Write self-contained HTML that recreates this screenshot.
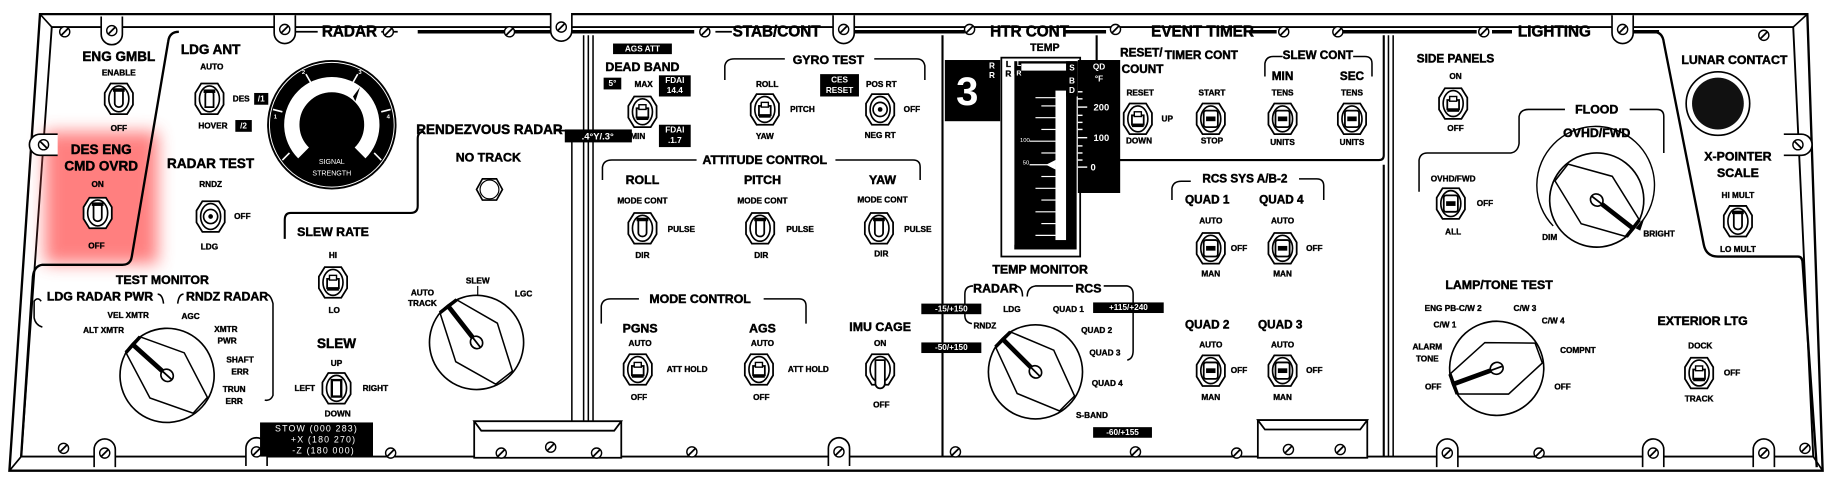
<!DOCTYPE html>
<html><head><meta charset="utf-8"><style>
html,body{margin:0;padding:0;background:#fff;}
svg{display:block;}
text{font-family:"Liberation Sans",sans-serif;font-weight:bold;fill:#000;text-anchor:middle;dominant-baseline:central;stroke:#000;stroke-width:0.3;}
.t{font-size:11.5px;stroke-width:0.4;}
.s{font-size:7px;}
.m{font-size:9px;}
.w{fill:#fff;stroke:none;}
.ln{fill:none;stroke:#000;stroke-width:1.6;}
</style></head><body>
<svg width="1845" height="484" viewBox="0 0 1568 411.3" preserveAspectRatio="none" xmlns="http://www.w3.org/2000/svg">
<defs>
<filter id="bl" x="-50%" y="-50%" width="200%" height="200%"><feGaussianBlur stdDeviation="7"/></filter>
<g id="sc"><circle r="4.3" fill="#fff" stroke="#000" stroke-width="1.2"/><line x1="-2.8" y1="2.8" x2="2.8" y2="-2.8" stroke="#000" stroke-width="1.5"/></g>
<g id="tab"><path d="M-9,-12 V3 A9,9 0 0 0 9,3 V-12" fill="#fff" stroke="#000" stroke-width="1.4"/><use href="#sc"/></g>
<g id="tabb"><path d="M-9,12 V-3 A9,9 0 0 1 9,-3 V12" fill="#fff" stroke="#000" stroke-width="1.4"/><use href="#sc"/></g>
<g id="hex"><polygon points="-12,-5 -7,-13 7,-13 12,-5 12,5 7,13 -7,13 -12,5" fill="#fff" stroke="#000" stroke-width="1.5"/><ellipse rx="8.5" ry="11" fill="none" stroke="#000" stroke-width="1.4"/></g>
<g id="tgd"><use href="#hex"/><path d="M-3.5,-7 h7 v11 a3.5,3 0 0 1 -7,0z" fill="#fff" stroke="#000" stroke-width="1.5"/><rect x="-5" y="-9" width="10" height="3" fill="#000"/></g>
<g id="tgu"><use href="#hex"/><path d="M-3.5,7 h7 v-11 a3.5,3 0 0 0 -7,0z" fill="#fff" stroke="#000" stroke-width="1.5"/><rect x="-5" y="-8" width="10" height="3" fill="#000"/></g>
<g id="tgc"><use href="#hex"/><rect x="-5" y="-3" width="10" height="8" fill="#fff" stroke="#000" stroke-width="1.5"/><rect x="-3" y="-6" width="6" height="4" fill="#fff" stroke="#000" stroke-width="1.2"/><rect x="-5" y="4" width="10" height="3" fill="#000"/></g>
<g id="pb"><use href="#hex"/><rect x="-6" y="-7" width="12" height="14" rx="2" fill="#fff" stroke="#000" stroke-width="1.5"/><rect x="-4" y="-2" width="8" height="4" fill="#000"/></g>
<g id="kn"><use href="#hex"/><circle r="6" fill="#fff" stroke="#000" stroke-width="1.4"/><circle r="2" fill="#000"/></g>
<g id="rot"><circle r="40" fill="#fff" stroke="#000" stroke-width="1.4"/><polygon points="-39,-9 -2,-24 38,-9 38,9 2,24 -39,9" fill="none" stroke="#000" stroke-width="1.3"/><line x1="-39" y1="-9" x2="-39" y2="9" stroke="#000" stroke-width="3"/><line x1="0" y1="0" x2="-38" y2="0" stroke="#000" stroke-width="4"/><ellipse rx="5.5" ry="5" fill="#fff" stroke="#000" stroke-width="1.4"/><line x1="-5" y1="0" x2="5" y2="0" stroke="#000" stroke-width="1.5"/></g>
</defs>

<polygon points="34,12 1536,12 1549,400 8,400" fill="#fff" stroke="#000" stroke-width="2"/>
<polygon points="44,23 1524,23 1541,388 18,388" fill="none" stroke="#000" stroke-width="1.6"/>
<line x1="34" y1="12" x2="44" y2="23" stroke="#000" stroke-width="1.4"/>
<line x1="1536" y1="12" x2="1524" y2="23" stroke="#000" stroke-width="1.4"/>
<line x1="1549" y1="400" x2="1541" y2="388" stroke="#000" stroke-width="1.4"/>
<line x1="8" y1="400" x2="18" y2="388" stroke="#000" stroke-width="1.4"/>

<rect x="38" y="112" width="96" height="112" fill="#ff6060" opacity="0.8" filter="url(#bl)"/>

<line x1="355" y1="27" x2="590" y2="27" stroke="#000" stroke-width="3"/>
<line x1="608" y1="27" x2="622" y2="27" stroke="#000" stroke-width="1.5"/>
<line x1="722" y1="27" x2="820" y2="27" stroke="#000" stroke-width="3"/>
<line x1="905" y1="27" x2="940" y2="27" stroke="#000" stroke-width="3"/>
<line x1="1140" y1="27" x2="1255" y2="27" stroke="#000" stroke-width="3"/>
<line x1="1268" y1="27" x2="1285" y2="27" stroke="#000" stroke-width="3"/>
<line x1="1385" y1="27" x2="1410" y2="27" stroke="#000" stroke-width="3"/>
<text x="297" y="27" class="t" style="font-size:13px">RADAR</text>
<line x1="250" y1="27" x2="270" y2="27" stroke="#000" stroke-width="1.5"/>
<line x1="324" y1="27" x2="338" y2="27" stroke="#000" stroke-width="1.5"/>
<text x="660" y="27" class="t" style="font-size:13px">STAB/CONT</text>
<text x="875" y="27" class="t" style="font-size:13px">HTR CONT</text>
<text x="1022" y="27" class="t" style="font-size:13px">EVENT TIMER</text>
<line x1="1062" y1="27" x2="1085" y2="27" stroke="#000" stroke-width="3"/>
<text x="1321" y="27" class="t" style="font-size:13px">LIGHTING</text>

<path d="M496,30 V388 M500,30 V388 M504,30 V388" stroke="#000" stroke-width="1.3" fill="none"/>
<path d="M486,112 V388" stroke="#000" stroke-width="1.3" fill="none"/>
<path d="M801,30 V388" stroke="#000" stroke-width="1.8" fill="none"/>
<path d="M932,30 V52" stroke="#000" stroke-width="1.8" fill="none"/>
<path d="M951,136 H1172 Q1176,136 1176,132 V30" stroke="#000" stroke-width="1.8" fill="none"/>
<path d="M1176,140 V388" stroke="#000" stroke-width="1.8" fill="none"/>
<path d="M1180,30 V388 M1184,30 V388" stroke="#000" stroke-width="1.3" fill="none"/>
<path d="M152,27 Q144,27 143,35 L112,218 Q111,225 104,225 H36 Q29,226 28,235 L18,388" class="ln" style="stroke-width:2"/>
<path d="M360,112 Q355,112 355,118 V175 Q355,181 349,181 H247 Q242,181 242,187 V203" class="ln" style="stroke-width:1.8"/>
<line x1="472" y1="111" x2="484" y2="111" stroke="#000" stroke-width="1.5"/>
<path d="M1388,27 H1405 Q1413,27 1414,36 L1448,208 Q1450,218 1460,218 H1528 Q1532,218 1532,224 L1544,397" class="ln" style="stroke-width:2"/>

<g fill="#fff" stroke="#000" stroke-width="1.5">
<rect x="403" y="358" width="125" height="31"/><polygon points="403,358 528,358 522,366 409,366" fill="#fff"/>
<rect x="1069" y="357" width="93" height="32"/><polygon points="1069,357 1162,357 1156,365 1075,365"/>
</g>

<use href="#sc" x="55" y="27"/><use href="#tab" x="95" y="26"/><use href="#tab" x="242" y="25"/><use href="#sc" x="330" y="27"/>
<use href="#sc" x="433" y="27"/><use href="#tab" x="477" y="23"/><use href="#sc" x="599" y="27"/><use href="#tab" x="717" y="25"/>
<use href="#sc" x="824" y="25"/><use href="#sc" x="948" y="25"/><use href="#sc" x="1091" y="27"/><use href="#sc" x="1137" y="27"/>
<use href="#sc" x="1261" y="27"/><use href="#tab" x="1379" y="25"/><use href="#sc" x="1499" y="30"/>
<g transform="translate(37,123) rotate(90)"><use href="#tab"/></g>
<g transform="translate(1528,123) rotate(-90)"><use href="#tab"/></g>
<use href="#sc" x="54" y="381"/><use href="#tabb" x="89" y="385"/><use href="#tabb" x="218" y="384"/><use href="#sc" x="332" y="385"/>
<use href="#sc" x="426" y="385"/><use href="#sc" x="468" y="380"/><use href="#sc" x="507" y="385"/><use href="#sc" x="588" y="384"/>
<use href="#tabb" x="713" y="384"/><use href="#sc" x="812" y="384"/><use href="#sc" x="965" y="384"/><use href="#sc" x="1051" y="385"/>
<use href="#sc" x="1095" y="382"/><use href="#sc" x="1139" y="382"/><use href="#tabb" x="1230" y="385"/><use href="#sc" x="1308" y="385"/>
<use href="#tabb" x="1405" y="385"/><use href="#tabb" x="1499" y="385"/><use href="#sc" x="1534" y="381"/>

<text x="101" y="48" class="t">ENG GMBL</text>
<text x="101" y="62" class="s">ENABLE</text>
<use href="#tgd" x="101" y="84"/>
<text x="101" y="109" class="s">OFF</text>
<text x="86" y="127" class="t">DES ENG</text>
<text x="86" y="141" class="t">CMD OVRD</text>
<text x="83" y="157" class="s">ON</text>
<use href="#tgd" x="83" y="181"/>
<text x="82" y="209" class="s">OFF</text>

<text x="179" y="42" class="t">LDG ANT</text>
<text x="180" y="57" class="s">AUTO</text>
<use href="#tgu" x="178" y="84"/>
<text x="205" y="84" class="s">DES</text>
<rect x="216" y="79" width="12" height="10" fill="#000"/><text x="222" y="84" class="s w">/1</text>
<text x="181" y="107" class="s">HOVER</text>
<rect x="200" y="102" width="14" height="10" fill="#000"/><text x="207" y="107" class="s w">/2</text>

<circle cx="282" cy="106" r="55" fill="#000"/>
<circle cx="282" cy="106" r="53" fill="none" stroke="#fff" stroke-width="0.8"/>
<path d="M258,130 A34,34 0 1 1 306,130" fill="none" stroke="#fff" stroke-width="13"/>
<g stroke="#fff" stroke-width="1.4">
<line x1="246" y1="130" x2="240" y2="136"/><line x1="240" y1="95" x2="232" y2="93"/><line x1="264" y1="70" x2="260" y2="63"/><line x1="300" y1="70" x2="304" y2="63"/><line x1="324" y1="95" x2="332" y2="93"/><line x1="318" y1="130" x2="324" y2="136"/>
</g>
<polygon points="300,82 306,74 302,86" fill="#000"/>
<text x="236" y="140" class="w" style="font-size:5px">0</text><text x="234" y="100" class="w" style="font-size:5px">1</text><text x="258" y="62" class="w" style="font-size:5px">2</text><text x="306" y="62" class="w" style="font-size:5px">3</text><text x="330" y="100" class="w" style="font-size:5px">4</text><text x="328" y="140" class="w" style="font-size:5px">5</text>
<text x="282" y="138" class="w" style="font-size:6px;font-weight:normal">SIGNAL</text>
<text x="282" y="148" class="w" style="font-size:6px;font-weight:normal">STRENGTH</text>

<text x="179" y="139" class="t">RADAR TEST</text>
<text x="179" y="157" class="s">RNDZ</text>
<use href="#kn" x="179" y="184"/>
<text x="206" y="184" class="s">OFF</text>
<text x="178" y="210" class="s">LDG</text>

<text x="416" y="110" class="t">RENDEZVOUS RADAR</text>
<text x="415" y="134" class="t" style="font-size:10.5px">NO TRACK</text>
<polygon points="405,161 410,152 422,152 427,161 422,170 410,170" fill="#fff" stroke="#000" stroke-width="1.4"/>
<circle cx="416" cy="161" r="8" fill="none" stroke="#000" stroke-width="1"/>

<text x="283" y="197" class="t" style="font-size:10.5px">SLEW RATE</text>
<text x="283" y="217" class="s">HI</text>
<use href="#tgc" x="283" y="240"/>
<text x="284" y="264" class="s">LO</text>
<text x="286" y="292" class="t">SLEW</text>
<text x="286" y="309" class="s">UP</text>
<use href="#hex" x="286" y="330"/>
<rect x="282" y="323" width="8" height="14" fill="#fff" stroke="#000" stroke-width="2"/>
<text x="259" y="330" class="s">LEFT</text>
<text x="319" y="330" class="s">RIGHT</text>
<text x="287" y="352" class="s">DOWN</text>

<rect x="221" y="359" width="96" height="29" fill="#000"/>
<text x="269" y="364" class="w" style="font-size:7.5px;font-weight:normal;letter-spacing:1px">STOW (000 283)</text>
<text x="275" y="373.5" class="w" style="font-size:7.5px;font-weight:normal;letter-spacing:1px">+X (180 270)</text>
<text x="275" y="383" class="w" style="font-size:7.5px;font-weight:normal;letter-spacing:1px">-Z (180 000)</text>

<text x="138" y="238" class="t" style="font-size:10.5px">TEST MONITOR</text>
<text x="85" y="252" class="t" style="font-size:10.5px">LDG RADAR PWR</text>
<text x="193" y="252" class="t" style="font-size:10.5px">RNDZ RADAR</text>
<path d="M35,256 Q32,252 29,256 V270 Q30,276 36,278" class="ln" style="stroke-width:1.3"/>
<path d="M134,250 Q138,250 139,258 M151,258 Q152,250 156,250" class="ln" style="stroke-width:1.3"/>
<path d="M226,250 Q230,250 232,258 V336 Q230,341 225,340" class="ln" style="stroke-width:1.3"/>
<g transform="translate(142,319) rotate(42)"><use href="#rot"/></g>
<text x="109" y="268" class="s">VEL XMTR</text><text x="88" y="281" class="s">ALT XMTR</text><text x="162" y="269" class="s">AGC</text>
<text x="192" y="280" class="s">XMTR</text><text x="193" y="290" class="s">PWR</text><text x="204" y="306" class="s">SHAFT</text><text x="204" y="316" class="s">ERR</text><text x="199" y="331" class="s">TRUN</text><text x="199" y="341" class="s">ERR</text>

<g transform="translate(405,291) rotate(52)"><use href="#rot"/></g>
<text x="359" y="249" class="s">AUTO</text><text x="359" y="258" class="s">TRACK</text>
<text x="406" y="239" class="s">SLEW</text><line x1="406" y1="243" x2="406" y2="251" stroke="#000" stroke-width="1"/>
<text x="445" y="250" class="s">LGC</text>

<rect x="521" y="37" width="50" height="9" fill="#000"/><text x="546" y="41.5" class="w s">AGS ATT</text>
<text x="546" y="57" class="t" style="font-size:10.5px">DEAD BAND</text>
<rect x="513" y="66" width="15" height="10" fill="#000"/><text x="520.5" y="71" class="w s">5°</text>
<text x="547" y="72" class="s">MAX</text>
<rect x="560" y="64" width="27" height="18" fill="#000"/><text x="573.5" y="68.5" class="w s">FDAI</text><text x="573.5" y="77" class="w s">14.4</text>
<use href="#tgc" x="546" y="95"/>
<rect x="480" y="110" width="57" height="11" fill="#000"/><text x="508" y="115.5" class="w s" style="font-size:8px">.4°Y/.3°</text>
<text x="542" y="116" class="s">MIN</text>
<rect x="560" y="106" width="27" height="19" fill="#000"/><text x="573.5" y="110.5" class="w s">FDAI</text><text x="573.5" y="119.5" class="w s">.1.7</text>

<text x="704" y="51" class="t" style="font-size:10.5px">GYRO TEST</text>
<path d="M616,68 V56 Q617,50 624,50 H667 M743,50 H779 Q785,50 786,56 V68" class="ln" style="stroke-width:1.3"/>
<text x="652" y="72" class="s">ROLL</text>
<use href="#tgc" x="650" y="93"/>
<text x="682" y="93" class="s">PITCH</text>
<text x="650" y="116" class="s">YAW</text>
<rect x="697" y="63" width="33" height="19" fill="#000"/><text x="713.5" y="68" class="w s">CES</text><text x="713.5" y="77" class="w s">RESET</text>
<text x="749" y="72" class="s">POS RT</text>
<use href="#kn" x="748" y="93"/>
<text x="775" y="93" class="s">OFF</text>
<text x="748" y="115" class="s">NEG RT</text>

<text x="650" y="136" class="t" style="font-size:10.5px">ATTITUDE CONTROL</text>
<path d="M512,153 V142 Q513,136 520,136 H592 M710,136 H776 Q782,136 782,142 V153" class="ln" style="stroke-width:1.3"/>
<text x="546" y="153" class="t" style="font-size:10.5px">ROLL</text><text x="648" y="153" class="t" style="font-size:10.5px">PITCH</text><text x="750" y="153" class="t" style="font-size:10.5px">YAW</text>
<text x="546" y="171" class="s">MODE CONT</text><text x="648" y="171" class="s">MODE CONT</text><text x="750" y="170" class="s">MODE CONT</text>
<use href="#tgd" x="546" y="194"/><use href="#tgd" x="646" y="194"/><use href="#tgd" x="747" y="194"/>
<text x="579" y="195" class="s">PULSE</text><text x="680" y="195" class="s">PULSE</text><text x="780" y="195" class="s">PULSE</text>
<text x="546" y="217" class="s">DIR</text><text x="647" y="217" class="s">DIR</text><text x="749" y="216" class="s">DIR</text>

<text x="595" y="254" class="t" style="font-size:10.5px">MODE CONTROL</text>
<path d="M511,275 V260 Q512,254 519,254 H543 M649,254 H679 Q685,254 685,260 V275" class="ln" style="stroke-width:1.3"/>
<text x="544" y="279" class="t" style="font-size:10.5px">PGNS</text><text x="648" y="279" class="t" style="font-size:10.5px">AGS</text><text x="748" y="278" class="t" style="font-size:10.5px">IMU CAGE</text>
<text x="544" y="292" class="s">AUTO</text><text x="648" y="292" class="s">AUTO</text><text x="748" y="292" class="s">ON</text>
<use href="#tgc" x="542" y="314"/><use href="#tgc" x="645" y="314"/>
<use href="#hex" x="748" y="314"/>
<path d="M744,306 h8 v20 a4,4 0 0 1 -8,0z" fill="#fff" stroke="#000" stroke-width="1.5"/>
<text x="584" y="314" class="s">ATT HOLD</text><text x="687" y="314" class="s">ATT HOLD</text>
<text x="543" y="338" class="s">OFF</text><text x="647" y="338" class="s">OFF</text><text x="749" y="344" class="s">OFF</text>

<text x="888" y="41" class="m">TEMP</text>
<rect x="803" y="51" width="47" height="52" fill="#000"/>
<text x="822" y="78" class="w" style="font-size:34px;font-weight:bold">3</text>
<text x="843" y="56" class="w s">R</text><text x="843" y="64" class="w s">R</text>
<rect x="851" y="49" width="67" height="169" fill="#fff" stroke="#000" stroke-width="1.5"/>
<rect x="862" y="52" width="53" height="160" fill="#000"/>
<rect x="852" y="63" width="10" height="145" fill="#fff"/>
<rect x="868" y="54" width="40" height="6" fill="#fff"/>
<text x="857" y="55" class="s">L</text><text x="857" y="63" class="s">R</text>
<text x="866" y="55" class="w s" style="font-size:6px">L</text><text x="866" y="63" class="w s" style="font-size:6px">R</text>
<rect x="897" y="77" width="9" height="127" fill="#fff"/>
<g stroke="#fff" stroke-width="1">
<line x1="880" y1="83" x2="897" y2="83"/><line x1="885" y1="90" x2="897" y2="90"/><line x1="880" y1="100" x2="897" y2="100"/><line x1="885" y1="110" x2="897" y2="110"/><line x1="875" y1="120" x2="897" y2="120"/><line x1="885" y1="130" x2="897" y2="130"/><line x1="875" y1="140" x2="897" y2="140"/><line x1="885" y1="150" x2="897" y2="150"/><line x1="880" y1="160" x2="897" y2="160"/><line x1="885" y1="170" x2="897" y2="170"/><line x1="880" y1="180" x2="897" y2="180"/><line x1="885" y1="190" x2="897" y2="190"/><line x1="880" y1="200" x2="897" y2="200"/>
</g>
<polygon points="889,140 897,136 897,144" fill="#fff"/>
<text x="871" y="120" class="w" style="font-size:5px;font-weight:normal">100</text>
<text x="872" y="139" class="w" style="font-size:5px;font-weight:normal">50</text>
<rect x="906" y="52" width="10" height="30" fill="#000"/>
<text x="911" y="58" class="w s">S</text><text x="911" y="69" class="w s">B</text><text x="911" y="77" class="w s">D</text>
<rect x="916" y="51" width="36" height="113" fill="#000"/>
<text x="934" y="57" class="w s">QD</text><text x="934" y="67" class="w s">°F</text>
<g stroke="#fff" stroke-width="1.2"><line x1="916" y1="91" x2="924" y2="91"/><line x1="916" y1="117" x2="924" y2="117"/><line x1="916" y1="142" x2="924" y2="142"/>
<line x1="916" y1="78" x2="920" y2="78"/><line x1="916" y1="84" x2="920" y2="84"/><line x1="916" y1="98" x2="920" y2="98"/><line x1="916" y1="104" x2="920" y2="104"/><line x1="916" y1="110" x2="920" y2="110"/><line x1="916" y1="124" x2="920" y2="124"/><line x1="916" y1="130" x2="920" y2="130"/><line x1="916" y1="136" x2="920" y2="136"/></g>
<text x="936" y="91" class="w" style="font-size:8px">200</text>
<text x="936" y="117" class="w" style="font-size:8px">100</text>
<text x="929" y="142" class="w" style="font-size:8px">0</text>

<text x="884" y="229" class="t" style="font-size:10.5px">TEMP MONITOR</text>
<text x="846" y="245" class="t" style="font-size:10.5px">RADAR</text>
<text x="925" y="245" class="t" style="font-size:10.5px">RCS</text>
<path d="M827,243 Q820,243 820,250 V268 Q820,274 826,275 M864,243 Q869,244 869,252 M873,252 Q873,244 880,243 H912 M938,243 H958 Q963,244 963,250 V298 Q963,305 958,306" class="ln" style="stroke-width:1.3"/>
<rect x="783" y="258" width="51" height="9" fill="#000"/><text x="808.5" y="262.5" class="w s">-15/+150</text>
<rect x="783" y="291" width="51" height="9" fill="#000"/><text x="808.5" y="295.5" class="w s">-50/+150</text>
<rect x="929" y="257" width="60" height="9" fill="#000"/><text x="959" y="261.5" class="w s">+115/+240</text>
<rect x="929" y="363" width="50" height="9" fill="#000"/><text x="954" y="367.5" class="w s">-60/+155</text>
<g transform="translate(880,316) rotate(45)"><use href="#rot"/></g>
<text x="860" y="263" class="s">LDG</text><text x="908" y="263" class="s">QUAD 1</text><text x="837" y="277" class="s">RNDZ</text>
<text x="932" y="281" class="s">QUAD 2</text><text x="939" y="300" class="s">QUAD 3</text><text x="941" y="326" class="s">QUAD 4</text><text x="928" y="353" class="s">S-BAND</text>

<text x="970" y="45" class="t" style="font-size:10px">RESET/</text>
<text x="971" y="59" class="t" style="font-size:10px">COUNT</text>
<text x="1021" y="47" class="t" style="font-size:10px">TIMER CONT</text>
<text x="969" y="79" class="s">RESET</text>
<use href="#tgc" x="967" y="101"/>
<text x="992" y="101" class="s">UP</text>
<text x="968" y="120" class="s">DOWN</text>
<text x="1030" y="79" class="s">START</text><use href="#pb" x="1029" y="101"/><text x="1030" y="120" class="s">STOP</text>
<text x="1120" y="47" class="t" style="font-size:10px">SLEW CONT</text>
<path d="M1075,65 V54 Q1076,48 1082,48 H1090 M1150,48 H1160 Q1166,48 1166,54 V65" class="ln" style="stroke-width:1.3"/>
<text x="1090" y="65" class="t" style="font-size:10px">MIN</text><text x="1149" y="65" class="t" style="font-size:10px">SEC</text>
<text x="1090" y="79" class="s">TENS</text><text x="1149" y="79" class="s">TENS</text>
<use href="#pb" x="1090" y="101"/><use href="#pb" x="1149" y="101"/>
<text x="1090" y="121" class="s">UNITS</text><text x="1149" y="121" class="s">UNITS</text>

<text x="1058" y="152" class="t" style="font-size:10px">RCS SYS A/B-2</text>
<path d="M996,170 V160 Q997,154 1004,154 H1012 M1104,152 H1119 Q1125,152 1125,158 V170" class="ln" style="stroke-width:1.3"/>
<text x="1026" y="170" class="t" style="font-size:10px">QUAD 1</text><text x="1089" y="170" class="t" style="font-size:10px">QUAD 4</text>
<text x="1026" y="276" class="t" style="font-size:10px">QUAD 2</text><text x="1088" y="276" class="t" style="font-size:10px">QUAD 3</text>
<text x="1029" y="188" class="s">AUTO</text><use href="#pb" x="1029" y="211"/><text x="1053" y="211" class="s">OFF</text><text x="1029" y="233" class="s">MAN</text>
<text x="1090" y="188" class="s">AUTO</text><use href="#pb" x="1090" y="211"/><text x="1117" y="211" class="s">OFF</text><text x="1090" y="233" class="s">MAN</text>
<text x="1029" y="293" class="s">AUTO</text><use href="#pb" x="1029" y="315"/><text x="1053" y="315" class="s">OFF</text><text x="1029" y="338" class="s">MAN</text>
<text x="1090" y="293" class="s">AUTO</text><use href="#pb" x="1090" y="315"/><text x="1117" y="315" class="s">OFF</text><text x="1090" y="338" class="s">MAN</text>

<text x="1237" y="50" class="t" style="font-size:10px">SIDE PANELS</text>
<text x="1237" y="65" class="s">ON</text>
<use href="#tgc" x="1235" y="88"/>
<text x="1237" y="109" class="s">OFF</text>
<text x="1357" y="93" class="t" style="font-size:10.5px">FLOOD</text>
<path d="M1206,163 V136 Q1207,130 1213,130 H1284 Q1290,129 1291,122 V99 Q1292,93 1299,93 H1330 M1385,93 H1408 Q1414,93 1414,99 V130" class="ln" style="stroke-width:1.3"/>
<text x="1357" y="113" class="t" style="font-size:10.5px">OVHD/FWD</text>
<text x="1235" y="152" class="s">OVHD/FWD</text>
<use href="#pb" x="1233" y="173"/>
<text x="1262" y="173" class="s">OFF</text>
<text x="1235" y="197" class="s">ALL</text>
<path d="M1320,192 A50,50 0 1 1 1394,190" class="ln" style="stroke-width:1.2"/>
<polygon points="1390,194 1398,184 1394,196" fill="#000"/>
<g transform="translate(1357,170) rotate(218)"><use href="#rot"/></g>
<text x="1317" y="202" class="s">DIM</text><text x="1410" y="199" class="s">BRIGHT</text>

<text x="1474" y="51" class="t" style="font-size:10.5px">LUNAR CONTACT</text>
<circle cx="1460" cy="88" r="27" fill="#fff" stroke="#000" stroke-width="1.4"/>
<circle cx="1460" cy="88" r="22" fill="#111"/>
<text x="1477" y="133" class="t" style="font-size:10.5px">X-POINTER</text>
<text x="1477" y="147" class="t" style="font-size:10.5px">SCALE</text>
<text x="1477" y="166" class="s">HI MULT</text>
<use href="#tgd" x="1477" y="188"/>
<text x="1477" y="212" class="s">LO MULT</text>

<text x="1274" y="242" class="t" style="font-size:10.5px">LAMP/TONE TEST</text>
<g transform="translate(1272,313) rotate(-20)"><use href="#rot"/></g>
<text x="1235" y="262" class="s">ENG PB-C/W 2</text><text x="1296" y="262" class="s">C/W 3</text><text x="1228" y="276" class="s">C/W 1</text><text x="1320" y="273" class="s">C/W 4</text>
<text x="1213" y="295" class="s">ALARM</text><text x="1213" y="305" class="s">TONE</text><text x="1341" y="298" class="s">COMPNT</text>
<text x="1218" y="329" class="s">OFF</text><text x="1328" y="329" class="s">OFF</text>

<text x="1447" y="273" class="t" style="font-size:10.5px">EXTERIOR LTG</text>
<text x="1445" y="294" class="s">DOCK</text>
<use href="#tgc" x="1444" y="317"/>
<text x="1472" y="317" class="s">OFF</text>
<text x="1444" y="339" class="s">TRACK</text>
</svg>
</body></html>
